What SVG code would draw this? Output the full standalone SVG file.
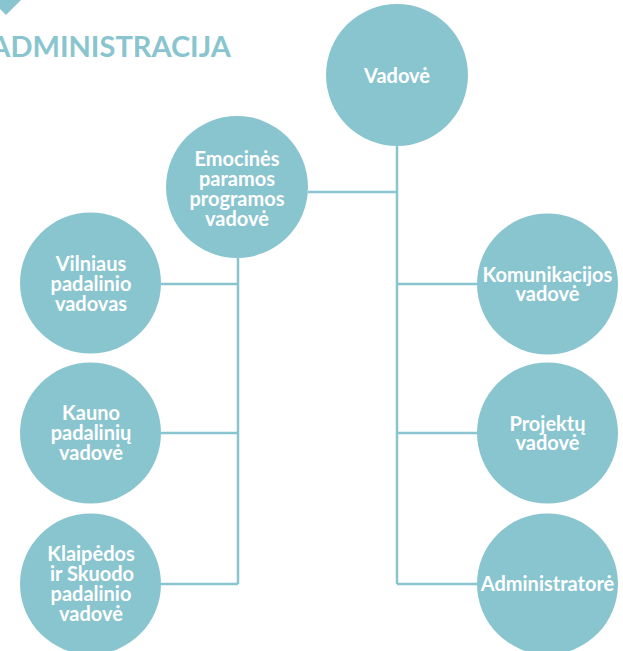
<svg xmlns="http://www.w3.org/2000/svg" width="623" height="651" viewBox="0 0 623 651">
<style>
.n{fill:#89c5cf}
.t{font-family:Lato,"Liberation Sans",sans-serif;font-weight:bold;font-size:20px;fill:#ffffff;text-anchor:middle}
.c{stroke:#89c5cf;stroke-width:2.5;fill:none}
.h{font-family:Lato,"Liberation Sans",sans-serif;font-weight:bold;font-size:29px;fill:#89c5cf;text-anchor:end}
</style>
<rect width="623" height="651" fill="#ffffff"/>
<polygon class="n" points="0,0 21,0 6,15 0,9"/>
<text class="h" x="231" y="57">ADMINISTRACIJA</text>
<g id="connectors" class="c">
<line x1="397" y1="146" x2="397" y2="584"/>
<line x1="308" y1="192" x2="397" y2="192"/>
<line x1="397" y1="284" x2="477" y2="284"/>
<line x1="397" y1="433" x2="477" y2="433"/>
<line x1="397" y1="584" x2="477" y2="584"/>
<line x1="238" y1="258" x2="238" y2="584"/>
<line x1="161" y1="284" x2="238" y2="284"/>
<line x1="161" y1="433" x2="238" y2="433"/>
<line x1="161" y1="584" x2="238" y2="584"/>
</g>
<g id="vadove"><circle class="n" cx="397" cy="75" r="71"/><text class="t" x="397" y="83">Vadovė</text></g>
<g id="emocines"><circle class="n" cx="237" cy="187" r="71"/><text class="t" x="237"><tspan x="237" y="165.5">Emocinės</tspan><tspan x="237" y="185.5">paramos</tspan><tspan x="237" y="205.5">programos</tspan><tspan x="237" y="225.5">vadovė</tspan></text></g>
<g id="vilniaus"><circle class="n" cx="90.5" cy="283" r="70.5"/><text class="t"><tspan x="91" y="270.5">Vilniaus</tspan><tspan x="91" y="290.5">padalinio</tspan><tspan x="91" y="310.5">vadovas</tspan></text></g>
<g id="kauno"><circle class="n" cx="90.5" cy="433" r="70.5"/><text class="t"><tspan x="91" y="419.5">Kauno</tspan><tspan x="91" y="439.5">padalinių</tspan><tspan x="91" y="459.5">vadovė</tspan></text></g>
<g id="klaipedos"><circle class="n" cx="90.5" cy="584" r="70.5"/><text class="t"><tspan x="91" y="560.5">Klaipėdos</tspan><tspan x="92" y="580.5">ir Skuodo</tspan><tspan x="91" y="600.5">padalinio</tspan><tspan x="91" y="620.5">vadovė</tspan></text></g>
<g id="komunikacijos"><circle class="n" cx="547.5" cy="284" r="70.5"/><text class="t"><tspan x="547.5" y="282">Komunikacijos</tspan><tspan x="547.5" y="301">vadovė</tspan></text></g>
<g id="projektu"><circle class="n" cx="547.5" cy="433" r="70.5"/><text class="t"><tspan x="547.5" y="430.5">Projektų</tspan><tspan x="547.5" y="450">vadovė</tspan></text></g>
<g id="administratore"><circle class="n" cx="547.5" cy="584" r="70.5"/><text class="t" x="547.5" y="590.5">Administratorė</text></g>
</svg>
